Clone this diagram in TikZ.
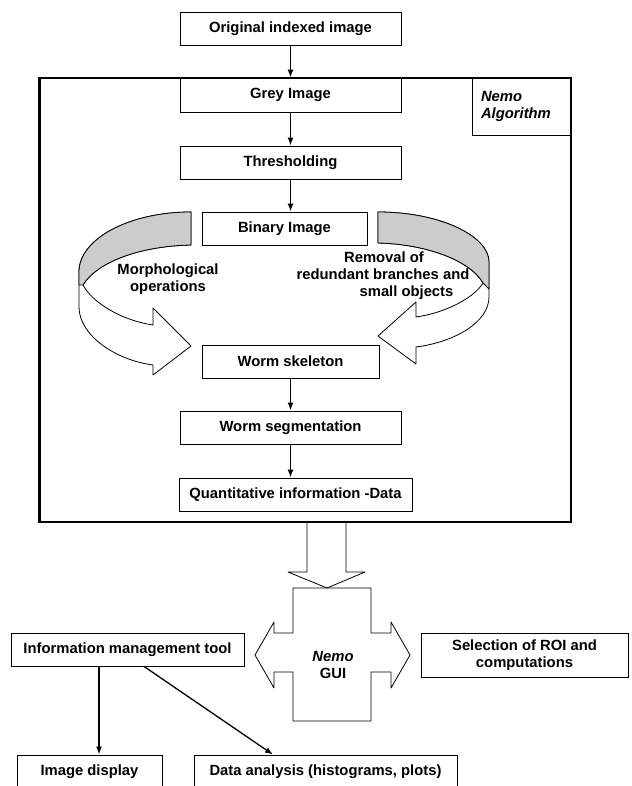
\documentclass[tikz,border=0pt]{standalone}
\usepackage{fontspec}
\setmainfont{Liberation Sans}
\usetikzlibrary{arrows.meta}

\newcommand{\boxfont}{\fontsize{14.8}{17}\selectfont\bfseries}

\begin{document}
\begin{tikzpicture}[x=1pt,y=-1pt,
  box/.style={draw, line width=0.9pt, inner sep=0pt, minimum height=33pt, font=\boxfont, align=center},
  flow/.style={line width=1.3pt, -{Latex[length=8pt,width=6pt]}},
  ribbon/.style={draw, line width=0.8pt, fill=white, line join=round},
  lbl/.style={font=\boxfont, align=center, inner sep=0pt}]

% Colori
\definecolor{bandGrey}{HTML}{CCCCCC}

% Area del disegno
\clip (0,0) rectangle (631,786);

% Cornice dell'algoritmo
\draw[line width=2.4pt] (39.5,78) rectangle (571,522);
\node[box, minimum width=99pt, minimum height=57pt, text width=81pt, align=left,
      font=\boxfont\itshape] (nemoalg) at (521.5,106.5) {Nemo\\Algorithm};

% Passi dell'algoritmo
\node[box, minimum width=221pt] (orig) at (290.5,28.5) {Original indexed image};
\node[box, minimum width=221pt, minimum height=34pt] (grey) at (290.5,95) {Grey Image};
\node[box, minimum width=221pt] (thresh) at (290.5,162.5) {Thresholding};
\node[box, minimum width=165pt] (binary) at (284.5,228.5) {Binary Image};
\node[box, minimum width=177pt] (skel) at (290.5,361.5) {Worm skeleton};
\node[box, minimum width=221pt] (seg) at (290.5,427.5) {Worm segmentation};
\node[box, minimum width=233pt] (quant) at (295.5,494.5) {Quantitative information -Data};

\draw[flow] (orig) -- (grey);
\draw[flow] (grey) -- (thresh);
\draw[flow] (thresh.south) -- (thresh.south |- binary.north);
\draw[flow] (skel) -- (seg);
\draw[flow] (seg.south) -- (seg.south |- quant.north);

% Freccia curva sinistra
\draw[ribbon] (191,212) .. controls (129,212) and (79,239) .. (79,272) -- (79,307)
  .. controls (79,335) and (115,360) .. (153,365) -- (153,375) -- (191,346)
  -- (153,308) -- (153,325) .. controls (120,320) and (92,302) .. (83,285)
  .. controls (97,262) and (140,246) .. (191,245) -- cycle;
\draw[ribbon, fill=bandGrey] (191,212) .. controls (129,212) and (79,239) .. (79,272)
  -- (79,285) -- (83,285) .. controls (97,262) and (140,246) .. (191,245) -- cycle;

% Freccia curva destra
\draw[ribbon] (378,212) .. controls (440,212) and (489,236) .. (489,262) -- (489,297)
  .. controls (489,322) and (455,342) .. (416,347) -- (416,364) -- (378,336)
  -- (416,302) -- (416,317) .. controls (445,313) and (474,298) .. (483,283)
  .. controls (470,260) and (425,244) .. (378,243) -- cycle;
\draw[ribbon, fill=bandGrey] (378,212) .. controls (440,212) and (489,236) .. (489,262)
  -- (489,289) -- (483,283) .. controls (470,260) and (425,244) .. (378,243) -- cycle;

% Etichette delle frecce curve
\node[lbl] (morph) at (168,279) {Morphological\\operations};
\node[lbl] (removal) at (383,276) {\hspace*{2pt}Removal of\\redundant branches and\\\hspace*{47pt}small objects};

% Freccia verso la GUI
\draw[line width=0.8pt, line join=round] (307,522) -- (307,572) -- (288,572) -- (327,588)
  -- (365,572) -- (346,572) -- (346,522);

% Croce della GUI
\draw[line width=0.8pt, line join=round] (293,588) -- (371,588) -- (371,633) -- (391,633)
  -- (391,622) -- (410,655) -- (391,688) -- (391,672) -- (371,672) -- (371,721)
  -- (293,721) -- (293,672) -- (274,672) -- (274,688) -- (255,655) -- (274,622)
  -- (274,633) -- (293,633) -- cycle;
\node[lbl] (gui) at (333,665) {\itshape Nemo\\GUI};

% Moduli della GUI
\node[box, minimum width=233pt] (info) at (127.5,649.5) {Information management tool};
\node[box, minimum width=207pt, minimum height=44pt] (sel) at (524.5,655) {Selection of ROI and\\computations};
\node[box, minimum width=145pt] (disp) at (89.5,771.5) {Image display};
\node[box, minimum width=263pt] (data) at (325.5,771.5) {Data analysis (histograms, plots)};

\draw[flow] ([xshift=-28.5pt]info.south) -- ([xshift=-28.5pt]info.south |- disp.north);
\draw[flow] ([xshift=16.5pt]info.south) -- ([xshift=-52.5pt]data.north);

\end{tikzpicture}
\end{document}
